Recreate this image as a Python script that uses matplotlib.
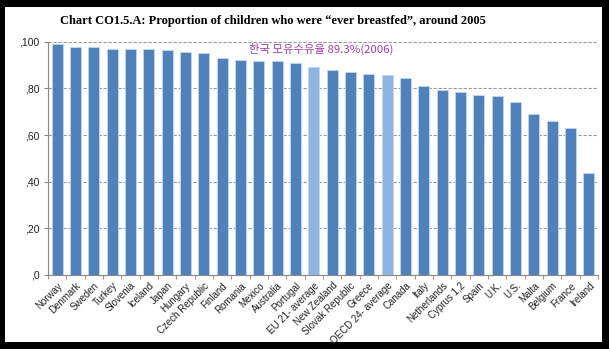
import matplotlib
matplotlib.use("Agg")
import matplotlib.pyplot as plt
from matplotlib.patches import Rectangle

countries = ["Norway", "Denmark", "Sweden", "Turkey", "Slovenia", "Iceland", "Japan",
             "Hungary", "Czech Republic", "Finland", "Romania", "Mexico", "Australia",
             "Portugal", "EU 21- average", "New Zealand", "Slovak Republic", "Greece",
             "OECD 24- average", "Canada", "Italy", "Netherlands", "Cyprus 1,2", "Spain",
             "U.K.", "U.S.", "Malta", "Belgium", "France", "Ireland"]
values = [98.9, 97.9, 97.6, 97.0, 97.0, 97.0, 96.6, 95.7, 95.3, 93.0, 92.1, 91.9, 91.9,
          90.7, 89.3, 87.9, 86.9, 86.0, 85.6, 84.3, 81.0, 79.2, 78.4, 77.1, 76.9, 74.2,
          69.0, 65.9, 63.0, 43.9]
yticks = [0, 20, 40, 60, 80, 100]

dark = "#4F81BD"
light = "#8DB4E2"
colors = [light if "average" in c else dark for c in countries]

fig = plt.figure(figsize=(6.09, 3.49), dpi=100)
fig.patch.set_facecolor("black")
# white page inside the black frame
fig.patches.append(Rectangle((5 / 609, 7 / 349), 597 / 609, 335 / 349,
                             transform=fig.transFigure, facecolor="white",
                             edgecolor="none", zorder=-10))

ax = fig.add_axes([48 / 609, 74 / 349, 550 / 609, 233.3 / 349])
ax.set_zorder(5)
ax.set_facecolor("none")
x = range(len(countries))
ax.bar(x, values, width=0.6, color=colors, edgecolor="#C5D6EC", linewidth=0.6, zorder=3)

ax.set_xlim(-0.5, len(countries) - 0.5)
ax.set_ylim(0, 100)
ax.set_yticks(yticks)
ax.set_yticklabels(["," + str(v) for v in yticks], fontsize=7.5, color="#222222",
                   family="Liberation Sans")
ax.set_xticks(x)
ax.set_xticklabels(countries, rotation=45, ha="right", rotation_mode="anchor",
                   fontsize=7, color="#222222", family="Liberation Sans")
ax.tick_params(axis="x", length=0, pad=4)
ax.set_xticks([i - 0.5 for i in range(len(countries) + 1)], minor=True)
ax.tick_params(axis="x", which="minor", length=3, color="#888888")
ax.tick_params(axis="y", length=3, color="#888888", pad=3)
ax.yaxis.grid(True, linestyle=(0, (3, 1.5)), color="#999999", linewidth=0.8, zorder=0)
for s in ["top", "right"]:
    ax.spines[s].set_visible(False)
for s in ["left", "bottom"]:
    ax.spines[s].set_color("#888888")

fig.text(273 / 609, 1 - 21 / 349, "Chart CO1.5.A: Proportion of children who were \u201cever breastfed\u201d, around 2005",
         ha="center", va="center", fontsize=9, fontweight="bold", family="Liberation Serif")

ax.text(10.47, 96.9, "한국 모유수유율 89.3%(2006)", ha="left", va="center", fontsize=8.2,
        color="#A33EA9", family=["Noto Sans CJK KR", "DejaVu Sans"])

fig.savefig("out.png", dpi=100, facecolor=fig.get_facecolor())
